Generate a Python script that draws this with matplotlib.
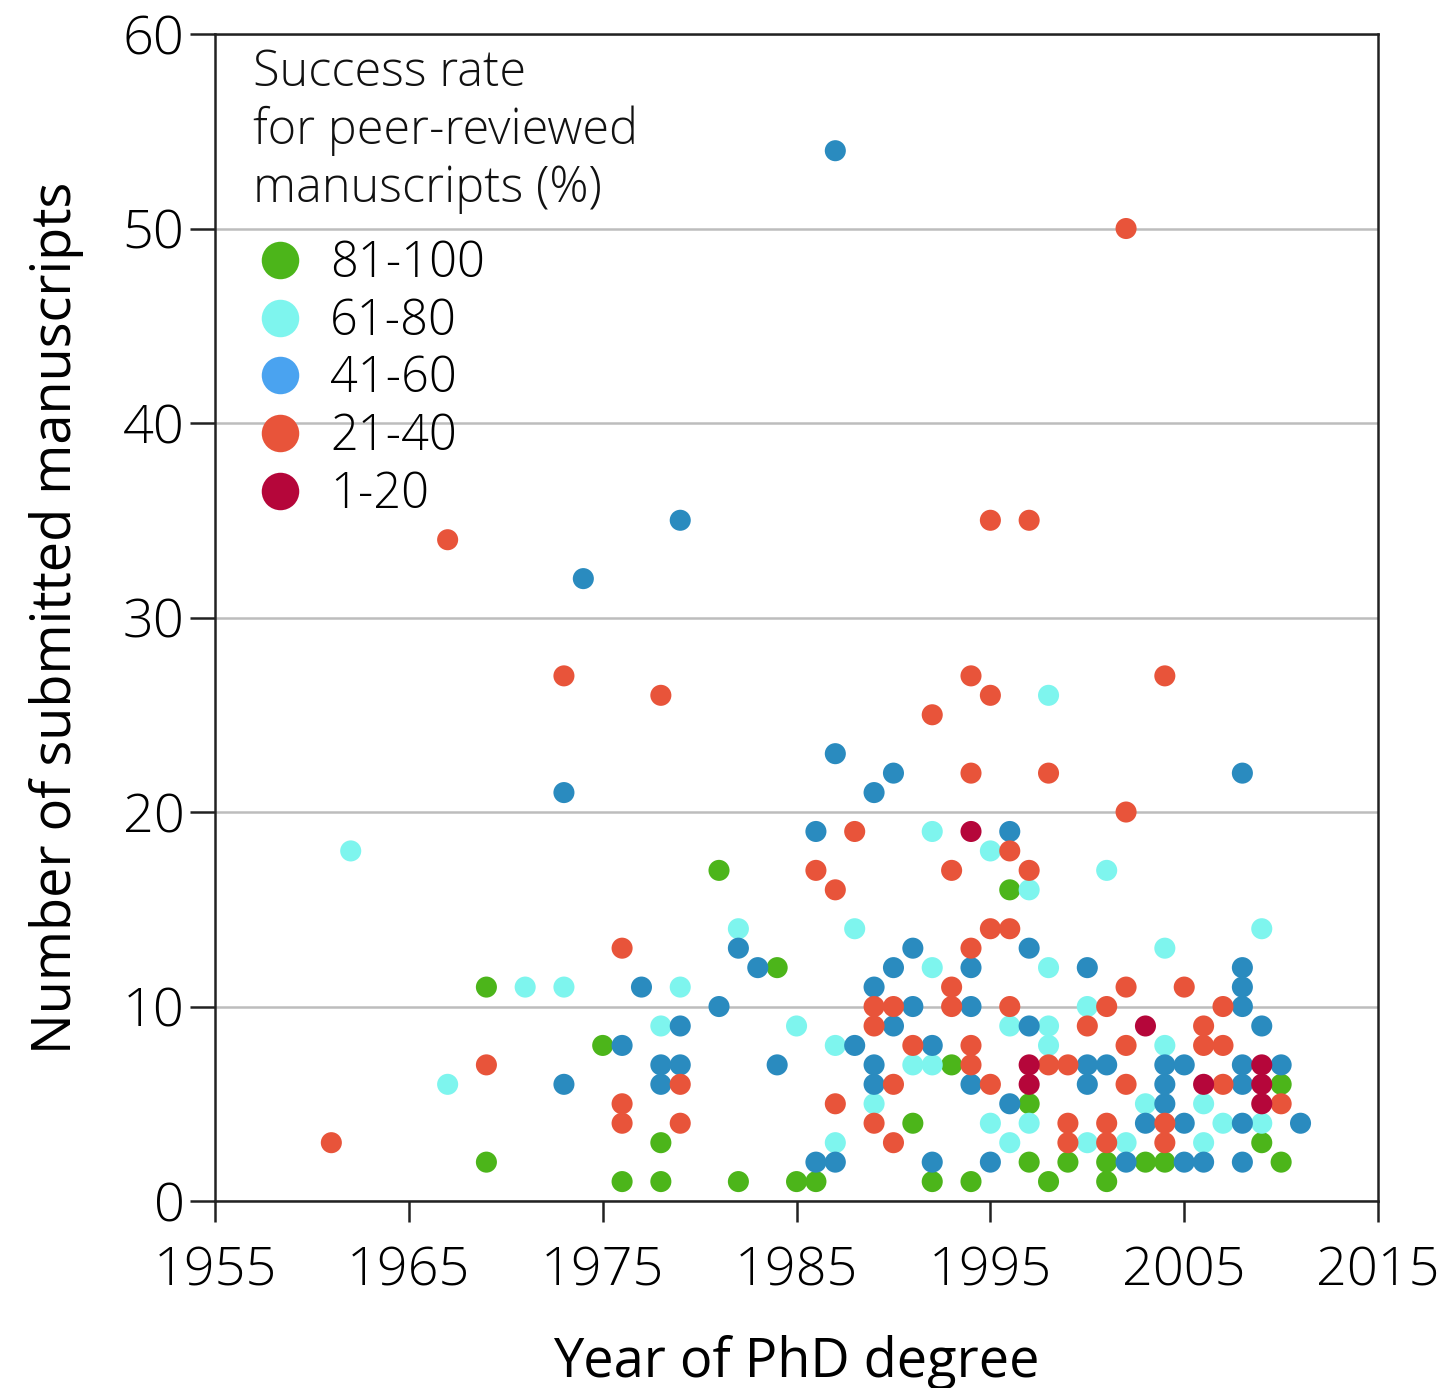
import matplotlib
matplotlib.use("Agg")
import matplotlib.pyplot as plt
from matplotlib.lines import Line2D

plt.rcParams['font.family'] = ['Open Sans', 'DejaVu Sans']
plt.rcParams['font.weight'] = 'light'

categories = ["81-100", "61-80", "41-60", "21-40", "1-20"]
colors = ["#4cb51a", "#7ef5ee", "#2a8bbf", "#e8543a", "#b5063a"]
legend_colors = ["#4cb51a", "#7ef5ee", "#4aa3f0", "#e8543a", "#b5063a"]
legend_title = "Success rate\nfor peer-reviewed\nmanuscripts (%)"

green_year = [1969, 1969, 1975, 1976, 1978, 1978, 1981, 1982, 1984, 1985, 1986, 1991, 1992, 1993,
              1994, 1996, 1997, 1997, 1998, 1999, 2001, 2001, 2003, 2004, 2009, 2010, 2010]
green_n = [11, 2, 8, 1, 3, 1, 17, 1, 12, 1, 1, 4, 1, 7,
           1, 16, 5, 2, 1, 2, 2, 1, 2, 2, 3, 6, 2]

cyan_year = [1962, 1967, 1971, 1973, 1978, 1979, 1982, 1985, 1987, 1987, 1988, 1989, 1991, 1992,
             1992, 1992, 1995, 1995, 1996, 1996, 1997, 1997, 1998, 1998, 1998, 1998, 2000, 2000,
             2001, 2002, 2003, 2004, 2004, 2006, 2006, 2007, 2009, 2009]
cyan_n = [18, 6, 11, 11, 9, 11, 14, 9, 8, 3, 14, 5, 7, 19,
          12, 7, 18, 4, 9, 3, 16, 4, 12, 9, 8, 26, 10, 3,
          17, 3, 5, 13, 8, 5, 3, 4, 14, 4]

blue_year = [1973, 1973, 1974, 1976, 1977, 1978, 1978, 1979, 1979, 1979, 1981, 1982, 1983, 1984,
             1986, 1986, 1987, 1987, 1987, 1988, 1989, 1989, 1989, 1989, 1990, 1990, 1990, 1991,
             1991, 1992, 1992, 1994, 1994, 1994, 1995, 1996, 1996, 1997, 1997, 2000, 2000, 2000,
             2001, 2002, 2003, 2004, 2004, 2004, 2005, 2005, 2005, 2006, 2008, 2008, 2008, 2008,
             2008, 2008, 2008, 2008, 2009, 2010, 2011]
blue_n = [21, 6, 32, 8, 11, 7, 6, 35, 9, 7, 10, 13, 12, 7,
          19, 2, 54, 23, 2, 8, 21, 11, 7, 6, 22, 12, 9, 13,
          10, 8, 2, 12, 10, 6, 2, 19, 5, 13, 9, 12, 7, 6,
          7, 2, 4, 7, 6, 5, 7, 4, 2, 2, 22, 12, 11, 10,
          7, 6, 4, 2, 9, 7, 4]

red_year = [1961, 1967, 1969, 1973, 1976, 1976, 1976, 1978, 1979, 1979, 1986, 1987, 1987, 1988,
            1989, 1989, 1989, 1990, 1990, 1990, 1991, 1992, 1993, 1993, 1993, 1994, 1994, 1994,
            1994, 1994, 1995, 1995, 1995, 1995, 1996, 1996, 1996, 1997, 1997, 1998, 1998, 1999,
            1999, 1999, 2000, 2001, 2001, 2001, 2002, 2002, 2002, 2002, 2002, 2004, 2004, 2004,
            2005, 2006, 2006, 2007, 2007, 2007, 2010]
red_n = [3, 34, 7, 27, 13, 5, 4, 26, 6, 4, 17, 16, 5, 19,
         10, 9, 4, 10, 6, 3, 8, 25, 17, 11, 10, 27, 22, 13,
         8, 7, 35, 26, 14, 6, 18, 14, 10, 35, 17, 22, 7, 7,
         4, 3, 9, 10, 4, 3, 50, 20, 11, 8, 6, 27, 4, 3,
         11, 9, 8, 10, 8, 6, 5]

dark_year = [1994, 1997, 1997, 2003, 2006, 2009, 2009, 2009]
dark_n = [19, 7, 6, 9, 6, 7, 6, 5]

series = [(green_year, green_n), (cyan_year, cyan_n), (blue_year, blue_n),
          (red_year, red_n), (dark_year, dark_n)]

fig = plt.figure(figsize=(14.48, 13.88), dpi=100)
ax = fig.add_axes([0.1485, 0.1347, 0.8032, 0.8408])

for (xs, ys), c in zip(series, colors):
    ax.scatter(xs, ys, s=230, color=c, edgecolors='none', zorder=3)

ax.set_xlim(1955, 2015)
ax.set_ylim(0, 60)
ax.set_xticks(range(1955, 2016, 10))
ax.set_yticks(range(0, 61, 10))
ax.yaxis.grid(True, color='#bdbdbd', linewidth=1.8, zorder=0)
ax.set_axisbelow(True)
for sp in ax.spines.values():
    sp.set_color('#222222')
    sp.set_linewidth(1.8)
ax.tick_params(axis='both', labelsize=39, width=1.8, color='#222222')
ax.tick_params(axis='x', length=15, pad=17)
ax.tick_params(axis='y', length=18, pad=4)
ax.set_xlabel("Year of PhD degree", fontsize=39, labelpad=26)
ax.set_ylabel("Number of submitted manuscripts", fontsize=39, labelpad=28)

ax.text(0.0327, 0.8561, legend_title, transform=ax.transAxes, fontsize=35,
        va='baseline', ha='left', linespacing=1.2, color='#111111')

handles = [Line2D([], [], marker='o', linestyle='none', markersize=27,
                  markerfacecolor=c, markeredgecolor='none') for c in legend_colors]
leg = ax.legend(handles, categories, loc='upper left', bbox_to_anchor=(0.031, 0.824),
                frameon=False, fontsize=35, labelspacing=0.155, handletextpad=0.43,
                borderpad=0, borderaxespad=0, handlelength=1.2)

fig.savefig("out.png", dpi=100)
